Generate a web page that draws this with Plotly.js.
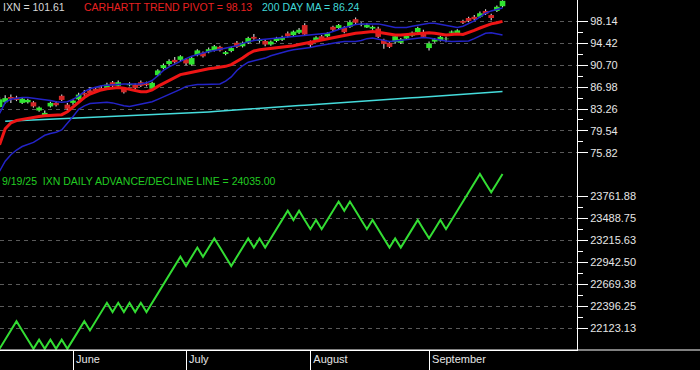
<!DOCTYPE html>
<html><head><meta charset="utf-8">
<script src="https://cdn.plot.ly/plotly-3.0.1.min.js"></script>
<style>html,body{margin:0;padding:0;background:#000;}#chart{width:700px;height:370px;}</style>
</head><body><div id="chart"></div>
<script>
const dates = [
"2025-05-13","2025-05-14","2025-05-15","2025-05-16","2025-05-19","2025-05-20","2025-05-21","2025-05-22","2025-05-23","2025-05-27","2025-05-28","2025-05-29","2025-05-30",
"2025-06-02","2025-06-03","2025-06-04","2025-06-05","2025-06-06","2025-06-09","2025-06-10","2025-06-11","2025-06-12","2025-06-13","2025-06-16","2025-06-17","2025-06-18","2025-06-20","2025-06-23","2025-06-24","2025-06-25","2025-06-26","2025-06-27","2025-06-30",
"2025-07-01","2025-07-02","2025-07-03","2025-07-07","2025-07-08","2025-07-09","2025-07-10","2025-07-11","2025-07-14","2025-07-15","2025-07-16","2025-07-17","2025-07-18","2025-07-21","2025-07-22","2025-07-23","2025-07-24","2025-07-25","2025-07-28","2025-07-29","2025-07-30","2025-07-31",
"2025-08-01","2025-08-04","2025-08-05","2025-08-06","2025-08-07","2025-08-08","2025-08-11","2025-08-12","2025-08-13","2025-08-14","2025-08-15","2025-08-18","2025-08-19","2025-08-20","2025-08-21","2025-08-22","2025-08-25","2025-08-26","2025-08-27","2025-08-28","2025-08-29",
"2025-09-02","2025-09-03","2025-09-04","2025-09-05","2025-09-08","2025-09-09","2025-09-10","2025-09-11","2025-09-12","2025-09-15","2025-09-16","2025-09-17","2025-09-18","2025-09-19"];
const monthLabels = ["June","July","August","September"];

const openP = [83.6,84.4,85.3,85.2,84.3,84.4,84.4,83.0,82.2,83.7,
84.3,85.5,84.0,84.3,84.9,86.0,86.4,86.7,86.8,86.8,
87.8,87.2,86.8,87.3,87.4,87.8,87.6,86.7,89.0,90.2,
90.9,91.6,91.6,91.7,90.8,92.4,92.8,92.9,93.2,93.8,
92.6,93.1,94.5,93.9,94.5,95.5,94.8,94.8,94.2,94.8,
95.0,96.1,95.8,96.2,97.5,94.6,94.9,95.6,95.6,97.2,
97.0,97.0,97.2,98.5,97.6,97.1,96.9,96.9,95.0,94.5,
94.6,94.5,95.2,95.7,96.3,96.2,93.6,94.7,94.9,95.1,
96.2,96.1,98.2,98.7,98.9,98.9,99.9,99.2,99.9,100.7];
const highP = [85.3,85.6,85.7,85.5,85.2,85.0,84.6,83.7,83.0,84.5,
84.6,85.7,84.3,85.0,86.0,86.5,87.0,87.0,87.3,87.7,
88.0,88.1,87.0,87.8,87.6,88.1,87.9,87.9,90.0,91.0,
91.7,92.1,92.4,91.9,92.1,93.4,93.0,93.7,94.1,94.0,
93.1,93.8,94.8,94.7,95.5,96.0,95.3,95.0,94.9,95.5,
95.7,96.4,96.6,97.0,97.8,94.9,95.6,95.8,96.3,97.4,
97.7,97.3,98.3,98.8,98.0,97.8,97.4,97.2,95.2,94.7,
95.8,95.3,95.9,96.4,97.2,96.7,94.7,95.3,95.7,95.5,
96.6,96.8,98.4,98.9,99.2,99.8,100.2,99.4,100.8,101.7];
const lowP = [83.3,84.2,84.3,84.6,84.1,84.2,83.5,82.8,82.0,83.5,
83.7,84.6,83.1,84.0,84.7,85.5,85.7,86.1,86.3,86.6,
87.0,87.0,85.9,87.1,86.6,87.0,87.1,86.5,88.8,90.0,
90.7,91.0,91.4,90.7,90.6,92.2,92.0,92.7,93.0,93.0,
92.4,92.9,93.6,93.7,94.3,95.0,94.5,93.9,94.0,94.6,
94.8,95.4,95.6,96.0,95.7,93.6,94.7,94.9,95.4,96.5,
96.8,96.1,97.0,97.7,97.3,97.0,96.7,95.3,93.5,93.6,
94.4,94.3,95.0,95.5,96.1,95.3,93.2,94.5,94.7,94.6,
96.0,95.9,97.7,98.0,98.3,98.7,99.2,98.3,99.7,100.5];
const closeP = [84.9,85.1,85.0,84.8,85.0,84.8,83.7,83.5,82.6,84.3,
83.9,84.8,83.3,84.7,85.7,85.7,85.9,86.3,86.5,87.4,
87.2,87.8,86.1,87.5,86.8,87.2,87.3,87.7,89.8,90.7,
91.4,91.2,92.2,91.0,91.9,93.2,92.2,93.4,93.9,93.2,
92.9,93.6,93.8,94.5,95.3,95.2,95.0,94.2,94.7,95.3,
95.4,95.6,96.4,96.7,95.9,94.1,95.4,95.1,96.1,96.7,
97.5,96.3,98.0,97.9,97.7,97.5,97.2,95.5,94.3,93.8,
95.6,95.1,95.7,96.2,97.0,95.5,94.4,95.1,95.5,95.2,
96.4,96.6,97.9,98.2,98.5,99.5,99.4,98.7,100.6,101.61];

const trendPivot = [77.2,79.9,80.9,81.3,81.5,81.7,81.9,82.0,82.1,82.2,
82.2,82.3,82.8,83.6,84.3,85.2,85.8,86.2,86.5,86.7,
86.8,86.9,86.8,86.6,86.4,86.2,86.2,86.5,87.1,87.6,
88.2,88.7,89.1,89.3,89.5,89.8,90.0,90.1,90.2,90.3,
90.5,90.8,91.3,91.9,92.6,93.1,93.3,93.4,93.5,93.6,
93.7,93.85,94.0,94.2,94.4,94.6,94.8,95.0,95.2,95.4,
95.6,95.8,96.0,96.1,96.2,96.3,96.4,96.3,96.1,95.9,
95.8,95.8,95.9,95.95,96.0,96.1,96.2,96.1,95.9,95.8,
95.9,96.0,95.9,96.2,96.6,97.0,97.4,97.7,97.9,98.13];
const upperBand = [82.5,84.4,84.9,85.1,85.2,85.2,85.1,85.0,84.9,84.7,
84.5,84.4,84.5,84.9,85.5,86.2,86.7,87.0,87.2,87.3,
87.4,87.5,87.5,87.5,87.5,87.5,87.7,88.1,88.9,89.8,
90.4,90.9,91.3,91.8,92.2,92.5,92.8,93.0,93.2,93.4,
93.5,93.7,94.0,94.4,94.7,94.9,95.0,95.1,95.2,95.3,
95.4,95.5,95.6,95.7,95.8,95.8,95.9,96.0,96.1,96.4,
96.8,97.1,97.3,97.6,97.7,97.7,97.7,97.7,97.5,97.3,
97.1,97.1,97.1,97.3,97.5,97.7,97.8,97.8,97.6,97.4,
97.2,97.1,97.3,97.8,98.2,98.9,99.5,99.9,100.2,100.4];
const lowerBand = [72.7,74.4,75.5,76.3,76.9,77.3,77.6,78.2,78.8,79.1,
79.3,79.7,80.8,82.0,83.2,83.8,84.2,84.3,84.4,84.4,
84.3,84.0,83.8,83.7,83.9,84.0,84.2,84.5,84.9,85.3,
85.8,86.2,86.6,87.1,87.3,87.4,87.4,87.4,87.4,87.5,
88.0,88.7,89.8,90.6,91.2,91.4,91.6,91.9,92.3,92.6,
92.9,93.1,93.3,93.4,93.6,93.7,93.9,94.1,94.3,94.5,
94.6,94.7,94.7,94.7,94.9,95.2,95.3,95.1,94.8,94.7,
94.8,94.9,95.0,95.2,95.3,95.4,95.3,95.1,95.0,94.8,
94.7,94.7,94.7,94.8,95.2,95.6,96.1,96.2,96.0,95.8];
const ma200 = [null,81.20,81.24,81.28,81.32,81.36,81.40,81.44,81.48,81.52,
81.56,81.60,81.64,81.68,81.72,81.76,81.80,81.84,81.88,81.92,
81.96,82.00,82.04,82.08,82.12,82.16,82.20,82.24,82.28,82.33,
82.38,82.42,82.47,82.53,82.59,82.65,82.71,82.77,82.83,82.89,
82.95,83.01,83.08,83.14,83.20,83.27,83.34,83.41,83.48,83.55,
83.62,83.69,83.76,83.84,83.91,83.98,84.05,84.13,84.20,84.28,
84.36,84.43,84.51,84.57,84.63,84.69,84.75,84.81,84.87,84.93,
84.99,85.05,85.11,85.17,85.23,85.29,85.35,85.42,85.48,85.55,
85.61,85.68,85.74,85.81,85.87,85.94,86.01,86.08,86.16,86.24];
const adLine = [21869,21983,22097,22211,22097,21983,21869,21983,21869,21983,
21869,21983,21869,21983,22097,22211,22097,22211,22325,22439,
22325,22439,22325,22439,22325,22439,22325,22439,22553,22667,
22781,22895,23009,22895,23009,23123,23009,23123,23237,23123,
23009,22895,23009,23123,23237,23123,23237,23123,23237,23351,
23465,23579,23465,23579,23465,23351,23465,23351,23465,23579,
23693,23579,23693,23579,23465,23351,23465,23351,23237,23123,
23237,23123,23237,23351,23465,23351,23237,23351,23465,23351,
23465,23579,23693,23807,23921,24035,23921,23807,23921,24035];

const priceTicks = [75.82,79.54,83.26,86.98,90.70,94.42,98.14];
const adTicks = [22123.13,22396.25,22669.38,22942.50,23215.63,23488.75,23761.88];

const idx = dates.map((d,i)=>i);
const last = dates.length-1;
const monthTickVals = [];
for (let i=1;i<dates.length;i++){ if (dates[i].slice(5,7)!==dates[i-1].slice(5,7)) monthTickVals.push(i); }
const mids = a => a.slice(1).map((v,i)=>(v+a[i])/2);
const bodyBase = openP.map((o,i)=>Math.min(o,closeP[i]));
const bodyLen = openP.map((o,i)=>Math.abs(closeP[i]-o));
const wickLen = highP.map((h,i)=>h-lowP[i]);

const GREEN='#30e430', RED='#d42828';
const bodyColors = openP.map((o,i)=> closeP[i]>=o ? GREEN : RED);
const traces = [
 {type:'scatter',mode:'lines',x:idx,y:ma200,line:{color:'#45dcdc',width:1.5},xaxis:'x',yaxis:'y',hoverinfo:'skip'},
 {type:'scatter',mode:'lines',x:idx,y:upperBand,line:{color:'#2323c8',width:1.5},xaxis:'x',yaxis:'y',hoverinfo:'skip'},
 {type:'scatter',mode:'lines',x:idx,y:lowerBand,line:{color:'#2323c8',width:1.5},xaxis:'x',yaxis:'y',hoverinfo:'skip'},
 {type:'bar',x:idx,y:wickLen,base:lowP,width:0.2,marker:{color:'#d8d8d8',line:{width:0}},xaxis:'x',yaxis:'y',hoverinfo:'skip'},
 {type:'bar',x:idx,y:bodyLen,base:bodyBase,width:1.0,marker:{color:bodyColors,line:{width:0}},xaxis:'x',yaxis:'y',hoverinfo:'skip'},
 {type:'scatter',mode:'lines',x:idx,y:trendPivot,line:{color:'#ee1515',width:3},xaxis:'x',yaxis:'y',hoverinfo:'skip'},
 {type:'scatter',mode:'lines',x:idx,y:adLine,line:{color:'#33dd33',width:2},xaxis:'x',yaxis:'y2',hoverinfo:'skip'}
];

const W=700, PW=577, PH=350, SPLIT=172;
const FONT="Liberation Sans, Arial, sans-serif";
const yAxisCommon = {side:'right',showline:true,linecolor:'#ffffff',linewidth:1,ticks:'outside',ticklen:10,tickcolor:'#ffffff',tickwidth:1,
  showgrid:true,gridcolor:'#5a5a5a',griddash:'4px,4px',gridwidth:1,zeroline:false,tickmode:'array',
  tickfont:{family:FONT,size:11,color:'#e6e6e6'},fixedrange:true};
const layout = {
  width:W,height:370,margin:{l:0,r:W-PW,t:0,b:20},paper_bgcolor:'#000',plot_bgcolor:'#000',showlegend:false,
  barmode:'overlay',
  font:{family:FONT,color:'#e6e6e6'},
  xaxis:{anchor:'y2',range:[0.08,102.18],showline:true,linecolor:'#ffffff',linewidth:1,showgrid:false,zeroline:false,
    tickmode:'array',tickvals:monthTickVals,ticktext:monthLabels,ticks:'outside',ticklen:20,tickcolor:'#ffffff',tickwidth:1,
    ticklabelposition:'outside right',ticklabelstandoff:-1,ticklabelshift:2,
    tickfont:{family:FONT,size:11,color:'#e6e6e6'},fixedrange:true},
  yaxis:Object.assign({},yAxisCommon,{anchor:'x',domain:[(PH-SPLIT)/PH,1],range:[101.754-0.16966*SPLIT,101.754],
    tickvals:priceTicks,ticktext:priceTicks.map(v=>v.toFixed(2)),
    minor:{tickmode:'array',tickvals:mids(priceTicks),ticks:'outside',ticklen:5,tickcolor:'#ffffff',showgrid:false}}),
  yaxis2:Object.assign({},yAxisCommon,{anchor:'x',domain:[0,(PH-SPLIT)/PH],range:[23761.88-154*12.387,23761.88+(196-SPLIT)*12.387],
    tickvals:adTicks,ticktext:adTicks.map(v=>v.toFixed(2)),
    minor:{tickmode:'array',tickvals:mids(adTicks),ticks:'outside',ticklen:5,tickcolor:'#ffffff',showgrid:false}}),
  shapes:[{type:'line',xref:'paper',yref:'paper',x0:0,x1:W/PW,y0:0,y1:0,line:{color:'#ffffff',width:1},layer:'above'}],
  annotations:[
    {xref:'paper',yref:'paper',x:1/PW,y:1-6.5/PH,xanchor:'left',yanchor:'middle',showarrow:false,
     text:'IXN = '+closeP[last].toFixed(2),font:{family:FONT,size:10.5,color:'#d8d8d8'}},
    {xref:'paper',yref:'paper',x:82/PW,y:1-6.5/PH,xanchor:'left',yanchor:'middle',showarrow:false,
     text:'CARHARTT TREND PIVOT = '+trendPivot[last].toFixed(2),font:{family:FONT,size:10.5,color:'#e82020'}},
    {xref:'paper',yref:'paper',x:260/PW,y:1-6.5/PH,xanchor:'left',yanchor:'middle',showarrow:false,
     text:'200 DAY MA = '+ma200[last].toFixed(2),font:{family:FONT,size:10.5,color:'#40d8d8'}},
    {xref:'paper',yref:'paper',x:0,y:1-181/PH,xanchor:'left',yanchor:'middle',showarrow:false,
     text:(()=>{const p=dates[last].split('-');return (+p[1])+'/'+(+p[2])+'/'+p[0].slice(2);})()+'&nbsp;&nbsp;IXN DAILY ADVANCE/DECLINE LINE = '+adLine[last].toFixed(2),
     font:{family:FONT,size:10.5,color:'#22cc22'}}
  ]
};
Plotly.newPlot('chart',traces,layout,{displayModeBar:false,staticPlot:true,responsive:false});
</script></body></html>
